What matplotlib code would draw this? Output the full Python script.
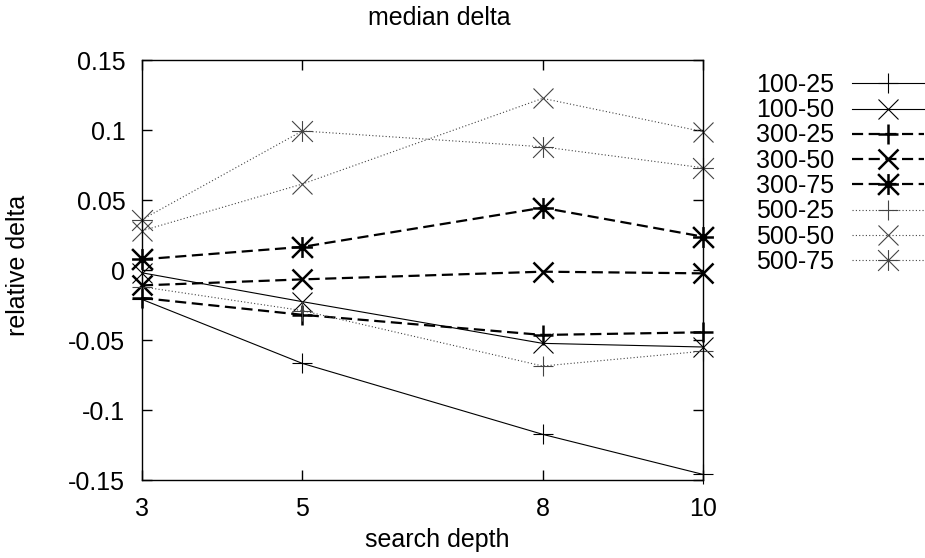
import numpy as np
import matplotlib.pyplot as plt
from matplotlib.path import Path

plt.rcParams['font.family'] = ['Liberation Sans', 'DejaVu Sans']

# search depth on the x axis
depth = [3, 5, 8, 10]

# median relative delta per configuration
d_100_25 = [-0.021, -0.0667, -0.1174, -0.146]
d_100_50 = [-0.002, -0.0226, -0.0524, -0.055]
d_300_25 = [-0.020, -0.032, -0.0464, -0.0445]
d_300_50 = [-0.011, -0.0067, -0.0012, -0.0024]
d_300_75 = [0.0076, 0.0165, 0.0445, 0.0238]
d_500_25 = [-0.012, -0.029, -0.0686, -0.058]
d_500_50 = [0.028, 0.0614, 0.1226, 0.0988]
d_500_75 = [0.036, 0.0993, 0.088, 0.073]

labels = ['100-25', '100-50', '300-25', '300-50', '300-75', '500-25', '500-50', '500-75']
series = [d_100_25, d_100_50, d_300_25, d_300_50, d_300_75, d_500_25, d_500_50, d_500_75]

yticks = [-0.15, -0.1, -0.05, 0, 0.05, 0.1, 0.15]
ytick_labels = ['-0.15', '-0.1', '-0.05', '0', '0.05', '0.1', '0.15']

# gnuplot style star: plus and cross together
star = Path([(-1, 0), (1, 0), (0, -1), (0, 1), (-1, -1), (1, 1), (-1, 1), (1, -1)],
            [Path.MOVETO, Path.LINETO] * 4)

solid = dict(color='black', linestyle='-', lw=0.8, mew=0.8)
dashed = dict(color='black', linestyle=(0, (5, 2.5)), lw=1.6, mew=1.8)
dotted = dict(color='#444444', linestyle=(0, (1, 2)), lw=0.8, mew=0.8)
styles = [(solid, '+'), (solid, 'x'), (dashed, '+'), (dashed, 'x'), (dashed, star),
          (dotted, '+'), (dotted, 'x'), (dotted, star)]

fig = plt.figure(figsize=(9.25, 5.58), dpi=100)
ax = fig.add_axes([142 / 925, 1 - 480 / 558, (703 - 142) / 925, (480 - 60) / 558])

for vals, lab, (st, mk) in zip(series, labels, styles):
    ax.plot(depth, vals, label=lab, marker=mk, markersize=15, mfc='none', clip_on=False, **st)

ax.set_xlim(3, 10)
ax.set_ylim(-0.15, 0.15)
ax.set_xticks(depth)
ax.set_xticklabels([str(d) for d in depth])
ax.set_yticks(yticks)
ax.set_yticklabels(ytick_labels)
ax.tick_params(direction='in', length=7, width=1, labelsize=18, pad=12,
               top=True, right=True)
for s in ax.spines.values():
    s.set_linewidth(1)

fig.text(439 / 925, 1 - 18 / 558, 'median delta', ha='center', va='center', fontsize=18)
fig.text(437 / 925, 1 - 540 / 558, 'search depth', ha='center', va='center', fontsize=18)
fig.text(18 / 925, 1 - 265 / 558, 'relative delta', ha='center', va='center',
         rotation=90, fontsize=18)

ax.legend(loc='upper right', bbox_to_anchor=(924 / 925, 1 - 73 / 558),
          bbox_transform=fig.transFigure, markerfirst=False, frameon=False,
          fontsize=18, handlelength=2.9, handletextpad=0.7, labelspacing=0.05,
          borderpad=0, borderaxespad=0)

plt.savefig('out.png')
